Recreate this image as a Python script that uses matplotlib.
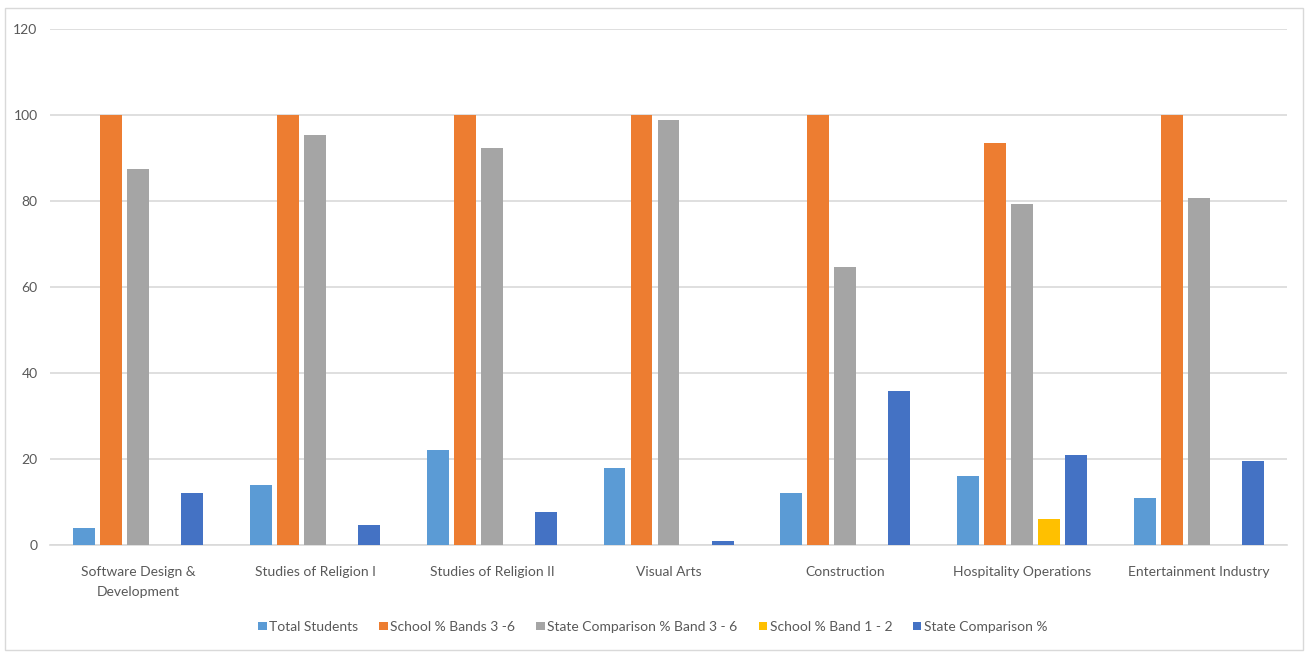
import numpy as np
import matplotlib
matplotlib.use("Agg")
import matplotlib.pyplot as plt
from matplotlib.patches import Rectangle

plt.rcParams["font.family"] = ["Lato", "DejaVu Sans"]

subjects = ["Software Design &\nDevelopment", "Studies of Religion I", "Studies of Religion II",
            "Visual Arts", "Construction", "Hospitality Operations", "Entertainment Industry"]
total_students = [4, 14, 22, 18, 12, 16, 11]
school_bands_3_6 = [100, 100, 100, 100, 100, 93.6, 100]
state_band_3_6 = [87.5, 95.4, 92.3, 98.8, 64.6, 79.3, 80.6]
school_band_1_2 = [0, 0, 0, 0, 0, 6, 0]
state_comparison = [12, 4.6, 7.7, 1, 35.9, 20.9, 19.6]

series = [
    ("Total Students", total_students, "#5B9BD5"),
    ("School % Bands 3 -6", school_bands_3_6, "#ED7D31"),
    ("State Comparison % Band 3 - 6", state_band_3_6, "#A5A5A5"),
    ("School % Band 1 - 2", school_band_1_2, "#FFC000"),
    ("State Comparison %", state_comparison, "#4472C4"),
]

fig = plt.figure(figsize=(13.06, 6.52), dpi=100)
fig.patches.append(Rectangle((5 / 1306, 2 / 652), 1298 / 1306, 642 / 652,
                             transform=fig.transFigure, fill=False,
                             edgecolor="#D9D9D9", linewidth=1))
ax = fig.add_axes([0.0383, 0.1641, 0.9472, 0.7914])

x = np.arange(len(subjects))
step = 0.153
width = 0.124
for i, (name, vals, col) in enumerate(series):
    ax.bar(x + (i - 2) * step, vals, width, color=col, label=name, zorder=3)

ax.set_ylim(0, 120)
ax.set_xlim(-0.5, len(subjects) - 0.5)
ax.set_yticks(range(0, 121, 20))
ax.yaxis.grid(True, color="#D9D9D9", linewidth=1.2, zorder=0)
for s in ["top", "right", "left"]:
    ax.spines[s].set_visible(False)
ax.spines["bottom"].set_color("#D9D9D9")
ax.spines["bottom"].set_linewidth(1.2)
ax.tick_params(length=0, colors="#595959", labelsize=10)
ax.tick_params(axis="x", pad=15)
ax.tick_params(axis="y", pad=9)
ax.set_xticks(x)
ax.set_xticklabels(subjects, linespacing=1.85)

fig.legend(loc="lower center", bbox_to_anchor=(0.5, 0.01), ncol=5, frameon=False,
           fontsize=10, handlelength=0.6, handleheight=0.6, handletextpad=0.2,
           columnspacing=1.5, labelcolor="#595959")

fig.savefig("out.png", dpi=100)
